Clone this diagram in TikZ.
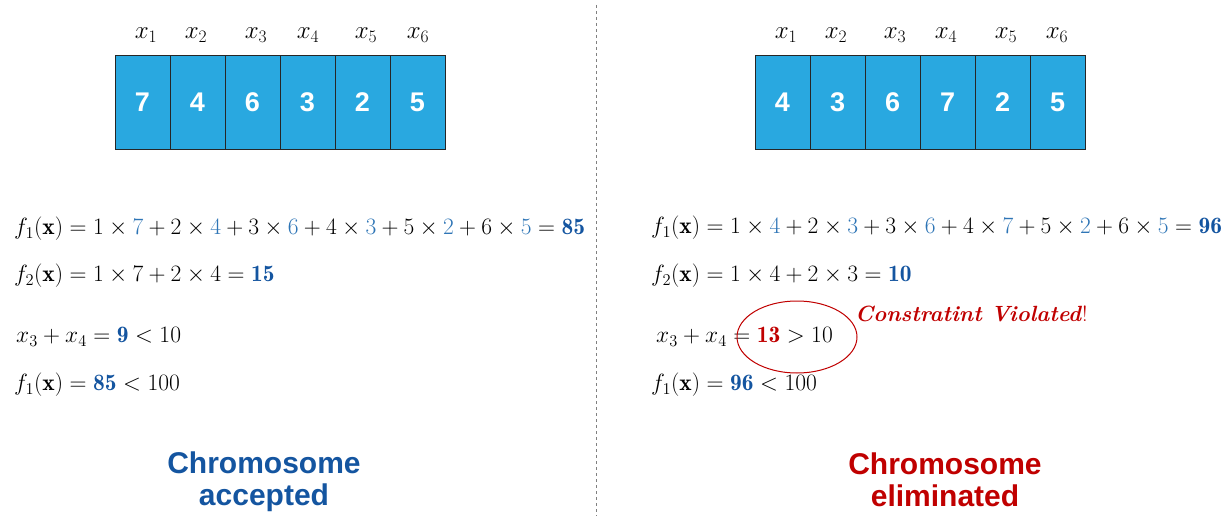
\RequirePackage{fix-cm}
\documentclass[tikz,border=0pt]{standalone}
\usepackage{fontspec}
\setsansfont{Liberation Sans}
\usetikzlibrary{calc}
\definecolor{cellblue}{RGB}{41,168,224}
\definecolor{numblue}{RGB}{46,117,182}
\definecolor{boldblue}{RGB}{20,85,160}
\definecolor{darkred}{RGB}{192,0,0}
\newcommand{\nb}[1]{\textcolor{numblue}{#1}}
\newcommand{\bb}[1]{\textcolor{boldblue}{\mathbf{#1}}}
\begin{document}
\begin{tikzpicture}[x=1pt,y=-1pt,
  cell/.style={draw=black!85,line width=0.9pt,fill=cellblue,minimum width=55pt,minimum height=94pt,inner sep=0pt,text=white,font=\fontsize{27}{30}\selectfont\sffamily\bfseries},
  lbl/.style={inner sep=0pt,font=\fontsize{25}{27}\selectfont},
  eq/.style={anchor=west,inner sep=0pt,font=\fontsize{23.5}{26}\selectfont},
  verdict/.style={align=center,inner sep=0pt,font=\fontsize{30}{32}\selectfont\sffamily\bfseries}]
\useasboundingbox (0,0) rectangle (1227,516);
% divider
\coordinate (dtop) at (596,5);
\coordinate (dbot) at (596,516);
\draw[gray,dashed,line width=0.8pt] (dtop) -- (dbot);
% left chromosome
\foreach \v [count=\i] in {7,4,6,3,2,5} {
  \node[cell] (L\i) at ({115+27.5+55*(\i-1)},102) {\v};
}
\foreach \i/\xx in {1/146,2/196,3/256,4/308,5/366,6/418} {
  \node[lbl] (Lx\i) at (\xx,35) {$x_{\i}$};
}
% right chromosome
\foreach \v [count=\i] in {4,3,6,7,2,5} {
  \node[cell] (R\i) at ({755+27.5+55*(\i-1)},102) {\v};
}
\foreach \i/\xx in {1/786,2/836,3/895,4/946,5/1006,6/1057} {
  \node[lbl] (Rx\i) at (\xx,35) {$x_{\i}$};
}
% left equations
\node[eq] (Lf1) at (14,229) {$f_1(\mathbf{x}) = 1\times\nb{7}+2\times\nb{4}+3\times\nb{6}+4\times\nb{3}+5\times\nb{2}+6\times\nb{5}=\bb{85}$};
\node[eq] (Lf2) at (14,276) {$f_2(\mathbf{x}) = 1\times 7+2\times 4=\bb{15}$};
\node[eq] (Lc) at (16,337) {$x_3+x_4=\bb{9}<10$};
\node[eq] (Lf1b) at (14,385) {$f_1(\mathbf{x}) = \bb{85}<100$};
% right equations
\node[eq] (Rf1) at (651,228) {$f_1(\mathbf{x}) = 1\times\nb{4}+2\times\nb{3}+3\times\nb{6}+4\times\nb{7}+5\times\nb{2}+6\times\nb{5}=\bb{96}$};
\node[eq] (Rf2) at (651,276) {$f_2(\mathbf{x}) = 1\times 4+2\times 3=\bb{10}$};
\node[eq] (Rc) at (656,337) {$x_3+x_4=\textcolor{darkred}{\mathbf{13}}>10$};
\node[eq] (Rf1b) at (651,385) {$f_1(\mathbf{x}) = \bb{96}<100$};
\draw[darkred,line width=1pt] (797,337) ellipse (60 and 36);
\node[anchor=west,inner sep=0pt,text=darkred,font=\fontsize{22}{24}\selectfont] (viol) at (855,314) {\textbf{\textit{Constratint Violated}}!};
% verdicts
\node[verdict,text=boldblue] (acc) at (264,482) {Chromosome\\accepted};
\node[verdict,text=darkred] (elim) at (945,480) {Chromosome\\eliminated};
\end{tikzpicture}
\end{document}
